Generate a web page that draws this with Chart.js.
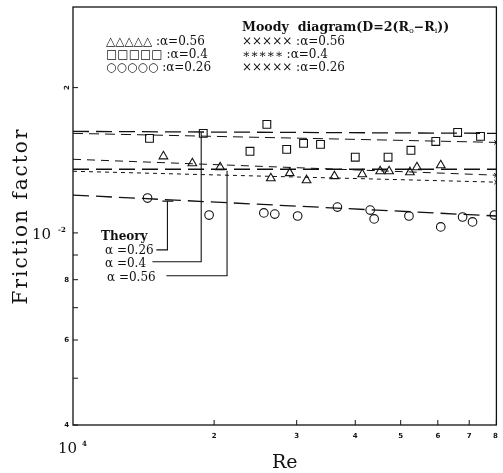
<!DOCTYPE html>
<html>
<head>
<meta charset="utf-8">
<script src="https://cdn.jsdelivr.net/npm/chart.js@4/dist/chart.umd.min.js"></script>
<style>
  html, body { margin: 0; padding: 0; background: #fff; }
  #wrap { width: 503px; height: 473px; }
</style>
</head>
<body>
<div id="wrap"><canvas id="c" width="503" height="473"></canvas></div>
<script>
// 摩擦係數 vs Re（log-log），三種 α 的實驗點 + 理論線 + Moody 線

// 實驗點（□ α=0.4 / △ α=0.56 / ○ α=0.26）
const reSquare = [14560, 18960, 23850, 25910, 28560, 31030, 33720, 40000, 46990, 52580, 59400, 66130, 74000];
const fSquare  = [0.01570, 0.01608, 0.01476, 0.01678, 0.01490, 0.01533, 0.01526, 0.01435, 0.01435, 0.01483, 0.01547, 0.01615, 0.01585];
const reTri    = [15590, 17970, 20600, 26420, 28990, 31490, 36110, 41400, 45200, 47230, 52330, 54150, 60870];
const fTri     = [0.01441, 0.01394, 0.01368, 0.01298, 0.01330, 0.01286, 0.01311, 0.01323, 0.01342, 0.01342, 0.01336, 0.01368, 0.01381];
const reCirc   = [14420, 19510, 25530, 26940, 30140, 36640, 43040, 43890, 52070, 60870, 67760, 71150, 79220];
const fCirc    = [0.01181, 0.01089, 0.01100, 0.01094, 0.01084, 0.01131, 0.01115, 0.01069, 0.01084, 0.01029, 0.01079, 0.01054, 0.01089];

// 理論線與 Moody 線（Re 端點）
const reLine = [10000, 80000];
const fTheory04  = [0.01623, 0.01608];
const fTheory056 = [0.01355, 0.01355];
const fTheory026 = [0.01198, 0.01084];
const fMoody04   = [0.01608, 0.01540];
const fMoody056  = [0.01421, 0.01317];
const fMoody026  = [0.01342, 0.01274];

// Theory 標註引線（Re, f）
const leadRe026 = [15060, 15900, 15900, 15510, 16370];
const leadF026  = [0.009224, 0.009224, 0.01164, 0.01164, 0.01164];
const leadRe04  = [14770, 18770, 18770];
const leadF04   = [0.008713, 0.008713, 0.01615];
const leadRe056 = [15820, 21310, 21310];
const leadF056  = [0.008152, 0.008152, 0.01345];

// 軸刻度
const xTickValues = [20000, 30000, 40000, 50000, 60000, 70000, 80000];
const xTickLabels = ['2', '3', '4', '5', '6', '7', '8'];
const yTickValues = [0.004, 0.005, 0.006, 0.007, 0.008, 0.009, 0.01, 0.02];
const yTickLabels = ['4', '', '6', '', '8', '', '', '2'];

const INK = '#111';
const SERIF = "'DejaVu Serif', 'Liberation Serif', serif";

const pts = (xs, ys) => xs.map((x, i) => ({ x, y: ys[i] }));

const markerSet = (label, xs, ys, style, r) => ({
  label, data: pts(xs, ys), showLine: false,
  pointStyle: style, pointRadius: r, borderWidth: 1.1,
  borderColor: INK, backgroundColor: 'rgba(0,0,0,0)',
});

const lineSet = (label, ys, dash, width) => ({
  label, data: pts(reLine, ys), showLine: true,
  borderColor: INK, borderWidth: width, borderDash: dash,
  pointRadius: 0, fill: false,
});

const moodySet = (label, ys, dash) => ({
  ...lineSet(label, ys, dash, 1),
  pointStyle: 'crossRot', pointRadius: [0, 3], pointBorderColor: INK,
});

const leaderSet = (label, xs, ys) => ({
  label, data: pts(xs, ys), showLine: true,
  borderColor: INK, borderWidth: 1.1, pointRadius: 0, fill: false,
});

// 框線、刻度、文字
const decor = {
  id: 'decor',
  afterDatasetsDraw(chart) {
    const { ctx, chartArea: a, scales: { x, y } } = chart;
    ctx.save();
    ctx.strokeStyle = INK;
    ctx.fillStyle = INK;
    ctx.lineWidth = 1.3;
    ctx.strokeRect(a.left, a.top, a.right - a.left, a.bottom - a.top);

    // x 刻度（向內）
    ctx.lineWidth = 1;
    ctx.font = "bold 7px 'DejaVu Sans', sans-serif";
    ctx.textAlign = 'center';
    ctx.textBaseline = 'middle';
    xTickValues.forEach((v, i) => {
      const px = x.getPixelForValue(v);
      ctx.beginPath(); ctx.moveTo(px, a.bottom); ctx.lineTo(px, a.bottom - 5); ctx.stroke();
      ctx.fillText(xTickLabels[i], Math.min(px, a.right - 1), a.bottom + 11);
    });
    // 10^4
    const x0 = x.getPixelForValue(10000);
    ctx.font = '15px ' + SERIF;
    ctx.textAlign = 'right';
    ctx.fillText('10', x0 + 4, a.bottom + 24);
    ctx.font = 'bold 7px ' + SERIF;
    ctx.textAlign = 'left';
    ctx.fillText('4', x0 + 9, a.bottom + 19);

    // y 刻度（向內）
    ctx.font = "bold 7px 'DejaVu Sans', sans-serif";
    yTickValues.forEach((v, i) => {
      const py = y.getPixelForValue(v);
      ctx.beginPath(); ctx.moveTo(a.left, py); ctx.lineTo(a.left + 5, py); ctx.stroke();
      const t = yTickLabels[i];
      if (!t) return;
      if (v === 0.02) {
        ctx.save();
        ctx.translate(a.left - 6, py);
        ctx.rotate(-Math.PI / 2);
        ctx.textAlign = 'center';
        ctx.fillText(t, 0, 0);
        ctx.restore();
      } else {
        ctx.textAlign = 'right';
        ctx.fillText(t, a.left - 4, py);
      }
    });
    const y1 = y.getPixelForValue(0.01);
    ctx.font = '15px ' + SERIF;
    ctx.textAlign = 'right';
    ctx.fillText('10', a.left - 22, y1 + 2);
    ctx.font = 'bold 7px ' + SERIF;
    ctx.textAlign = 'left';
    ctx.fillText('-2', a.left - 15, y1 - 3);

    // 軸標題
    ctx.font = '19px ' + SERIF;
    ctx.textAlign = 'center';
    ctx.fillText('Re', (a.left + a.right) / 2, a.bottom + 38);
    ctx.save();
    ctx.translate(22, (a.top + a.bottom) / 2);
    ctx.rotate(-Math.PI / 2);
    ctx.letterSpacing = '2px';
    ctx.font = '20px ' + SERIF;
    ctx.fillText('Friction factor', 0, 0);
    ctx.restore();

    // 圖例（左）
    ctx.textAlign = 'left';
    ctx.textBaseline = 'middle';
    ctx.font = '12px ' + SERIF;
    const lx = a.left + 33;
    ctx.fillText('\u25B3\u25B3\u25B3\u25B3\u25B3 :\u03B1=0.56', lx, a.top + 35);
    ctx.fillText('\u25A1\u25A1\u25A1\u25A1\u25A1 :\u03B1=0.4', lx, a.top + 48);
    ctx.fillText('\u25CB\u25CB\u25CB\u25CB\u25CB :\u03B1=0.26', lx, a.top + 61);

    // 圖例（右，Moody）
    const mx = a.left + 169;
    let cx = mx;
    const put = (s, f, dy) => { ctx.font = f; ctx.fillText(s, cx, a.top + 21 + dy); cx += ctx.measureText(s).width; };
    put('Moody  diagram(D=2(R', 'bold 12.6px ' + SERIF, 0);
    put('o', '8px ' + SERIF, 3);
    put('\u2212R', 'bold 12.6px ' + SERIF, 0);
    put('i', '8px ' + SERIF, 3);
    put('))', 'bold 12.6px ' + SERIF, 0);
    ctx.font = '12px ' + SERIF;
    ctx.fillText('\u00D7\u00D7\u00D7\u00D7\u00D7 :\u03B1=0.56', mx, a.top + 35);
    ctx.fillText('\u2217\u2217\u2217\u2217\u2217 :\u03B1=0.4', mx, a.top + 48);
    ctx.fillText('\u00D7\u00D7\u00D7\u00D7\u00D7 :\u03B1=0.26', mx, a.top + 61);

    // Theory 標註
    ctx.font = 'bold 12px ' + SERIF;
    ctx.fillText('Theory', a.left + 28, a.top + 230);
    ctx.font = '12px ' + SERIF;
    ctx.fillText('\u03B1 =0.26', a.left + 32, a.top + 244);
    ctx.fillText('\u03B1 =0.4', a.left + 32, a.top + 257);
    ctx.fillText('\u03B1 =0.56', a.left + 34, a.top + 271);
    ctx.restore();
  },
};

new Chart(document.getElementById('c'), {
  type: 'scatter',
  data: {
    datasets: [
      markerSet('\u25B3 \u03B1=0.56', reTri, fTri, 'triangle', 5),
      markerSet('\u25A1 \u03B1=0.4', reSquare, fSquare, 'rect', 5.5),
      markerSet('\u25CB \u03B1=0.26', reCirc, fCirc, 'circle', 4.3),
      lineSet('Theory \u03B1=0.4', fTheory04, [16, 7], 1.3),
      lineSet('Theory \u03B1=0.56', fTheory056, [16, 7], 1.6),
      lineSet('Theory \u03B1=0.26', fTheory026, [16, 7], 1.3),
      moodySet('Moody \u03B1=0.4', fMoody04, [10, 6]),
      moodySet('Moody \u03B1=0.56', fMoody056, [8, 6]),
      moodySet('Moody \u03B1=0.26', fMoody026, [4, 4]),
      leaderSet('lead 0.26', leadRe026, leadF026),
      leaderSet('lead 0.4', leadRe04, leadF04),
      leaderSet('lead 0.56', leadRe056, leadF056),
    ],
  },
  options: {
    responsive: false,
    animation: false,
    events: [],
    layout: { padding: { left: 73, right: 4, top: 7, bottom: 48 } },
    plugins: { legend: { display: false }, tooltip: { enabled: false } },
    scales: {
      x: {
        type: 'logarithmic', min: 10000, max: 80000,
        grid: { display: false, drawTicks: false },
        border: { display: false },
        ticks: { display: false },
      },
      y: {
        type: 'logarithmic', min: 0.004, max: 0.02938,
        grid: { display: false, drawTicks: false },
        border: { display: false },
        ticks: { display: false },
      },
    },
  },
  plugins: [decor],
});
</script>
</body>
</html>
